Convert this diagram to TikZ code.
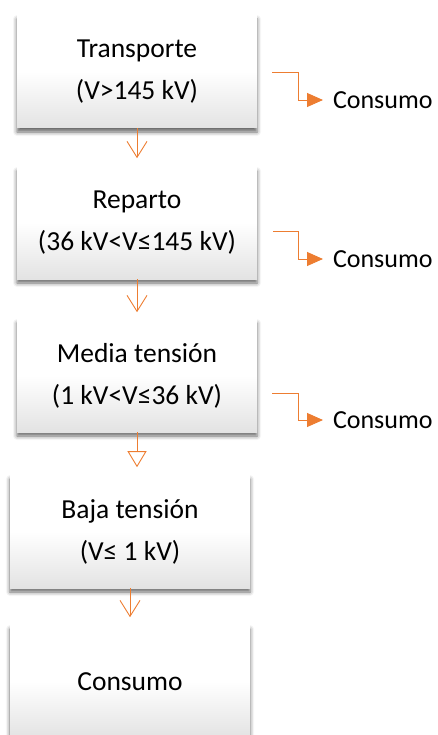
\documentclass[tikz,border=0pt]{standalone}
\usepackage{fontspec}
\setmainfont{Carlito}
\usetikzlibrary{arrows.meta,shadows.blur}
\definecolor{wordorange}{HTML}{ED7D31}
\begin{document}
\begin{tikzpicture}[x=1pt, y=-1pt,
    box/.style={minimum width=240pt, minimum height=113pt, inner sep=0pt, align=center,
      top color=white, bottom color=black!11, middle color=white,
      blur shadow={shadow xshift=0pt, shadow yshift=-4pt, shadow blur radius=4pt, shadow opacity=60},
      font=\fontsize{27.5}{42}\selectfont},
    flow/.style={draw=wordorange, line width=0.9pt, -{Straight Barb[length=16pt, width=20pt, line width=0.9pt]}},
    hollow/.style={draw=wordorange, line width=0.9pt, -{Triangle[open, length=16pt, width=19pt, line width=0.9pt]}},
    tap/.style={draw=wordorange, line width=0.9pt, -{Triangle[length=16pt, width=14pt]}, fill=none},
    outlabel/.style={anchor=west, inner sep=0pt, outer sep=10pt, font=\fontsize{26}{32}\selectfont}]
    \useasboundingbox (0,0) rectangle (438,735);
    % the five levels
    \node[box] (trans) at (137,71.5) {Transporte\\(V>145 kV)};
    \node[box, minimum height=112pt] (rep) at (137,223) {Reparto\\(36 kV<V≤145 kV)};
    \node[box] (media) at (137,375.5) {Media tensión\\(1 kV<V≤36 kV)};
    \node[box] (baja) at (130,531.5) {Baja tensión\\(V≤ 1 kV)};
    \node[box] (cons) at (130,681.5) {Consumo};
    % downward links
    \draw[flow] (trans.south) -- ++(0,30);
    \draw[flow] (rep.south) -- ++(0,33);
    \draw[hollow] (media.south) -- ++(0,35);
    \draw[flow] (baja.south) -- ++(0,29);
    % side taps
    \coordinate (e1) at (272,72);
    \coordinate (e2) at (273,231);
    \coordinate (e3) at (272,393);
    \node[outlabel] (out1) at (323,100) {Consumo};
    \node[outlabel] (out2) at (323,259) {Consumo};
    \node[outlabel] (out3) at (323,420) {Consumo};
    \draw[tap] (e1) -- ++(26,0) |- (out1.west);
    \draw[tap] (e2) -- ++(25,0) |- (out2.west);
    \draw[tap] (e3) -- ++(26,0) |- (out3.west);
\end{tikzpicture}
\end{document}
